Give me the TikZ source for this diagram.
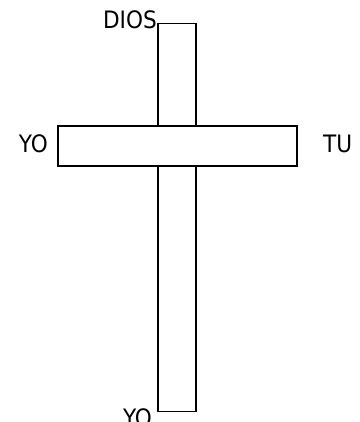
\documentclass[tikz,border=0pt]{standalone}
\usepackage{fontspec}
\setmainfont{DejaVu Sans Condensed}
\usetikzlibrary{positioning}

\begin{document}
\begin{tikzpicture}[x=1pt,y=-1pt,
  bar/.style={draw=black,line width=1.2pt,fill=white,inner sep=0pt},
  word/.style={font=\fontsize{24}{26}\selectfont,inner sep=0pt}]
\useasboundingbox (0,0) rectangle (359,422);
\node[bar,minimum width=38pt,minimum height=388pt] (vert) at (177,217.75) {};
\node[bar,minimum width=239pt,minimum height=40pt] (horiz) at (177.5,146) {};
\node[word,anchor=base east] (dios) at (157,29) {DIOS};
\node[word,anchor=base east] (yoleft) at (48,153) {YO};
\node[word,anchor=base west] (tu) at (323,153) {TU};
\node[word,anchor=north] (yobottom) at (137.5,408) {YO};
\end{tikzpicture}
\end{document}
